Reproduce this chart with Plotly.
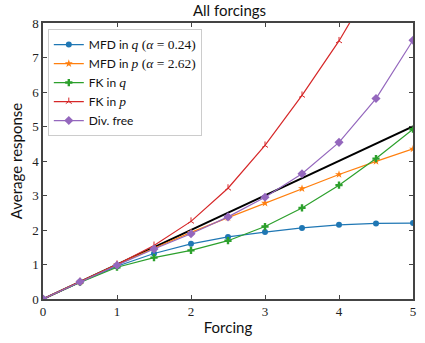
import plotly.graph_objects as go

forcing = [0, 0.5, 1, 1.5, 2, 2.5, 3, 3.5, 4, 4.5, 5]

mfd_q = [0, 0.49, 0.95, 1.32, 1.60, 1.80, 1.94, 2.06, 2.15, 2.19, 2.20]
mfd_p = [0, 0.50, 1.00, 1.47, 1.93, 2.36, 2.78, 3.20, 3.61, 3.99, 4.35]
fk_q = [0, 0.48, 0.92, 1.20, 1.41, 1.69, 2.10, 2.64, 3.30, 4.07, 4.92]
fk_p = [0, 0.50, 1.00, 1.55, 2.25, 3.21, 4.45, 5.90, 7.48, 9.30, 11.2]
div_free = [0, 0.50, 0.98, 1.45, 1.89, 2.38, 2.95, 3.63, 4.54, 5.81, 7.50]


def math(s):
    return f'<span style="font-family:Liberation Serif;font-size:13.5px">{s}</span>'


names = [
    f"MFD in {math('<i>q</i> (<i>α</i> = 0.24)')}",
    f"MFD in {math('<i>p</i> (<i>α</i> = 2.62)')}",
    f"FK in {math('<i>q</i>')}",
    f"FK in {math('<i>p</i>')}",
    "Div. free",
]
colors = ["#1f77b4", "#ff7f0e", "#2ca02c", "#d62728", "#9467bd"]
symbols = ["circle", "star", "cross", "y-up", "diamond"]
sizes = [6, 6, 6, 5, 7]
series = [mfd_q, mfd_p, fk_q, fk_p, div_free]

fig = go.Figure()

# identity reference line
fig.add_trace(go.Scatter(x=[forcing[0], forcing[-1]], y=[forcing[0], forcing[-1]],
                         mode="lines", line=dict(color="black", width=2),
                         showlegend=False, hoverinfo="skip"))

for name, ys, c, s, sz in zip(names, series, colors, symbols, sizes):
    marker = dict(symbol=s, size=sz, color=c)
    if s == "y-up":
        marker["line"] = dict(color=c, width=1)
    else:
        marker["line"] = dict(width=0)
    fig.add_trace(go.Scatter(x=forcing, y=ys, mode="lines+markers", name=name,
                             line=dict(color=c, width=1.2), marker=marker))

axis_common = dict(
    showline=True, linecolor="#444", linewidth=1.5, mirror="allticks",
    ticks="inside", ticklen=4, tickwidth=1, tickcolor="#444",
    showgrid=False, zeroline=False,
    tickfont=dict(family="Liberation Serif", size=13, color="#222"),
)

fig.update_xaxes(range=[0, 5], dtick=1,
                 title=dict(text="Forcing", font=dict(family="Lato", size=15, color="#111"), standoff=4),
                 **axis_common)
fig.update_yaxes(range=[0, 8], dtick=1,
                 title=dict(text="Average response", font=dict(family="Lato", size=15, color="#111"), standoff=6),
                 **axis_common)

# drop shadow behind the legend box
fig.add_shape(type="rect", xref="paper", yref="paper",
              x0=0.019, x1=0.429, y0=0.604, y1=0.971,
              fillcolor="#6f6f6f", line=dict(width=0), layer="above")

fig.update_layout(
    width=425, height=343,
    margin=dict(l=43, r=9, t=23, b=42),
    plot_bgcolor="white", paper_bgcolor="white",
    title=dict(text="All forcings", x=0.54, xanchor="center", y=0.985, yanchor="top",
               font=dict(family="Lato", size=15, color="#111")),
    legend=dict(x=0.013, y=0.978, xanchor="left", yanchor="top",
                bgcolor="white", bordercolor="#ccc", borderwidth=1,
                font=dict(family="Lato", size=12, color="#111"),
                tracegroupgap=0),
)

fig.write_html("out.html")
